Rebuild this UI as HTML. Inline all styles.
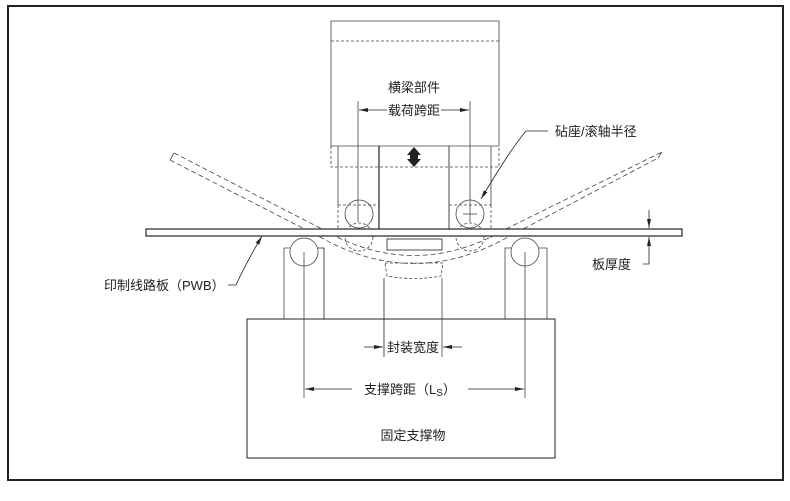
<!DOCTYPE html>
<html><head><meta charset="utf-8"><style>
html,body{margin:0;padding:0;background:#fff;}
svg{display:block;}
text{font-family:"Liberation Sans","Noto Sans CJK SC",sans-serif;font-size:13px;fill:#222;}
</style></head><body>
<svg width="790" height="501" viewBox="0 0 790 501" xmlns="http://www.w3.org/2000/svg">
<defs>
<marker id="a" markerWidth="10" markerHeight="6" refX="9" refY="3" orient="auto" markerUnits="userSpaceOnUse"><path d="M0,1 L9,3 L0,5 Z" fill="#222"/></marker>
</defs>
<rect x="8" y="6" width="775" height="474" fill="none" stroke="#222" stroke-width="2"/>
<g stroke="#444" fill="none" stroke-width="0.8">
<polyline points="331,146 331,21 499,21 499,146"/>
<line x1="331" y1="41" x2="499" y2="41" stroke-dasharray="3,2"/>
<line x1="331" y1="146" x2="499" y2="146"/>
<polyline points="331,146 331,167 499,167 499,146" stroke-dasharray="3,2"/>
<line x1="338" y1="146" x2="338" y2="205"/>
<line x1="491" y1="146" x2="491" y2="205"/>
<line x1="338" y1="205" x2="338" y2="238" stroke-dasharray="3,2"/>
<line x1="491" y1="205" x2="491" y2="238" stroke-dasharray="3,2"/>
<line x1="379" y1="146" x2="379" y2="229" stroke="#222" stroke-width="1.2"/>
<line x1="449" y1="146" x2="449" y2="229" stroke-width="1"/>
<line x1="338" y1="205" x2="379" y2="205" stroke-dasharray="3,2"/>
<line x1="449" y1="205" x2="491" y2="205" stroke-dasharray="3,2"/>
<line x1="358" y1="101" x2="358" y2="222"/>
<line x1="470" y1="101" x2="470" y2="222"/>
<circle cx="359" cy="214" r="14"/>
<circle cx="470" cy="214" r="14"/>
<line x1="463" y1="214" x2="477" y2="214"/>
<circle cx="359" cy="237" r="14" stroke-dasharray="3,2"/>
<circle cx="470" cy="237" r="14" stroke-dasharray="3,2"/>
<path d="M170,160 L320,237 Q414,290 508,237 L658,158" stroke-dasharray="5,3"/>
<path d="M174,153 L322,229 Q414,282 506,229 L662,152" stroke-dasharray="5,3"/>
<line x1="170" y1="160" x2="174" y2="153"/>
<line x1="658" y1="158" x2="662" y2="152"/>
<rect x="146" y="229" width="536" height="7" fill="#fff" stroke="#222" stroke-width="1.2"/>
<rect x="387" y="239" width="55" height="11" fill="#fff" stroke="#222"/>
<line x1="387" y1="239" x2="442" y2="239" stroke-dasharray="2,1.5"/>
<path d="M385,263 L443,263 L441,276 Q414,281 387,276 Z" stroke-dasharray="3,2"/>
<polyline points="284,319 284,248 290,248"/>
<polyline points="324,319 324,248 318,248" stroke="#222"/>
<polyline points="505,319 505,248 511,248"/>
<polyline points="547,319 547,248 539,248"/>
<circle cx="304" cy="252" r="14"/>
<circle cx="525" cy="252" r="14"/>
<rect x="247" y="319" width="308" height="139" stroke="#222" stroke-width="1"/>
<line x1="384" y1="278" x2="384" y2="357" stroke="#222"/>
<line x1="442" y1="278" x2="442" y2="357"/>
<line x1="304" y1="252" x2="304" y2="398"/>
<line x1="525" y1="252" x2="525" y2="398"/>
</g>
<g stroke="#222" stroke-width="0.8" fill="none">
<line x1="387" y1="110" x2="359" y2="110" marker-end="url(#a)"/>
<line x1="441" y1="110" x2="469" y2="110" marker-end="url(#a)"/>
<line x1="364" y1="347" x2="383" y2="347" marker-end="url(#a)"/>
<line x1="462" y1="347" x2="443" y2="347" marker-end="url(#a)"/>
<line x1="352" y1="389" x2="305" y2="389" marker-end="url(#a)"/>
<line x1="468" y1="389" x2="524" y2="389" marker-end="url(#a)"/>
<path d="M548,131 L526,131 Q510,150 481,199" marker-end="url(#a)"/>
<path d="M228,285 L236,285 Q245,265 262,236" marker-end="url(#a)"/>
<line x1="649" y1="210" x2="649" y2="228" marker-end="url(#a)"/>
<polyline points="643,264 649,264 649,237" marker-end="url(#a)"/>
</g>
<path d="M414,147 L407,155 L410,155 L410,159 L407,159 L414,167 L421,159 L418,159 L418,155 L421,155 Z" fill="#222"/>
<text x="414" y="92" text-anchor="middle">横梁部件</text>
<text x="414" y="115" text-anchor="middle">载荷跨距</text>
<text x="555" y="136">砧座/滚轴半径</text>
<text x="104" y="290">印制线路板（PWB）</text>
<text x="592" y="269">板厚度</text>
<text x="413" y="352" text-anchor="middle">封装宽度</text>
<text x="410" y="394" text-anchor="middle">支撑跨距（L<tspan font-size="10" dy="2">S</tspan><tspan dy="-2">）</tspan></text>
<text x="413" y="440" text-anchor="middle">固定支撑物</text>
</svg>
</body></html>
